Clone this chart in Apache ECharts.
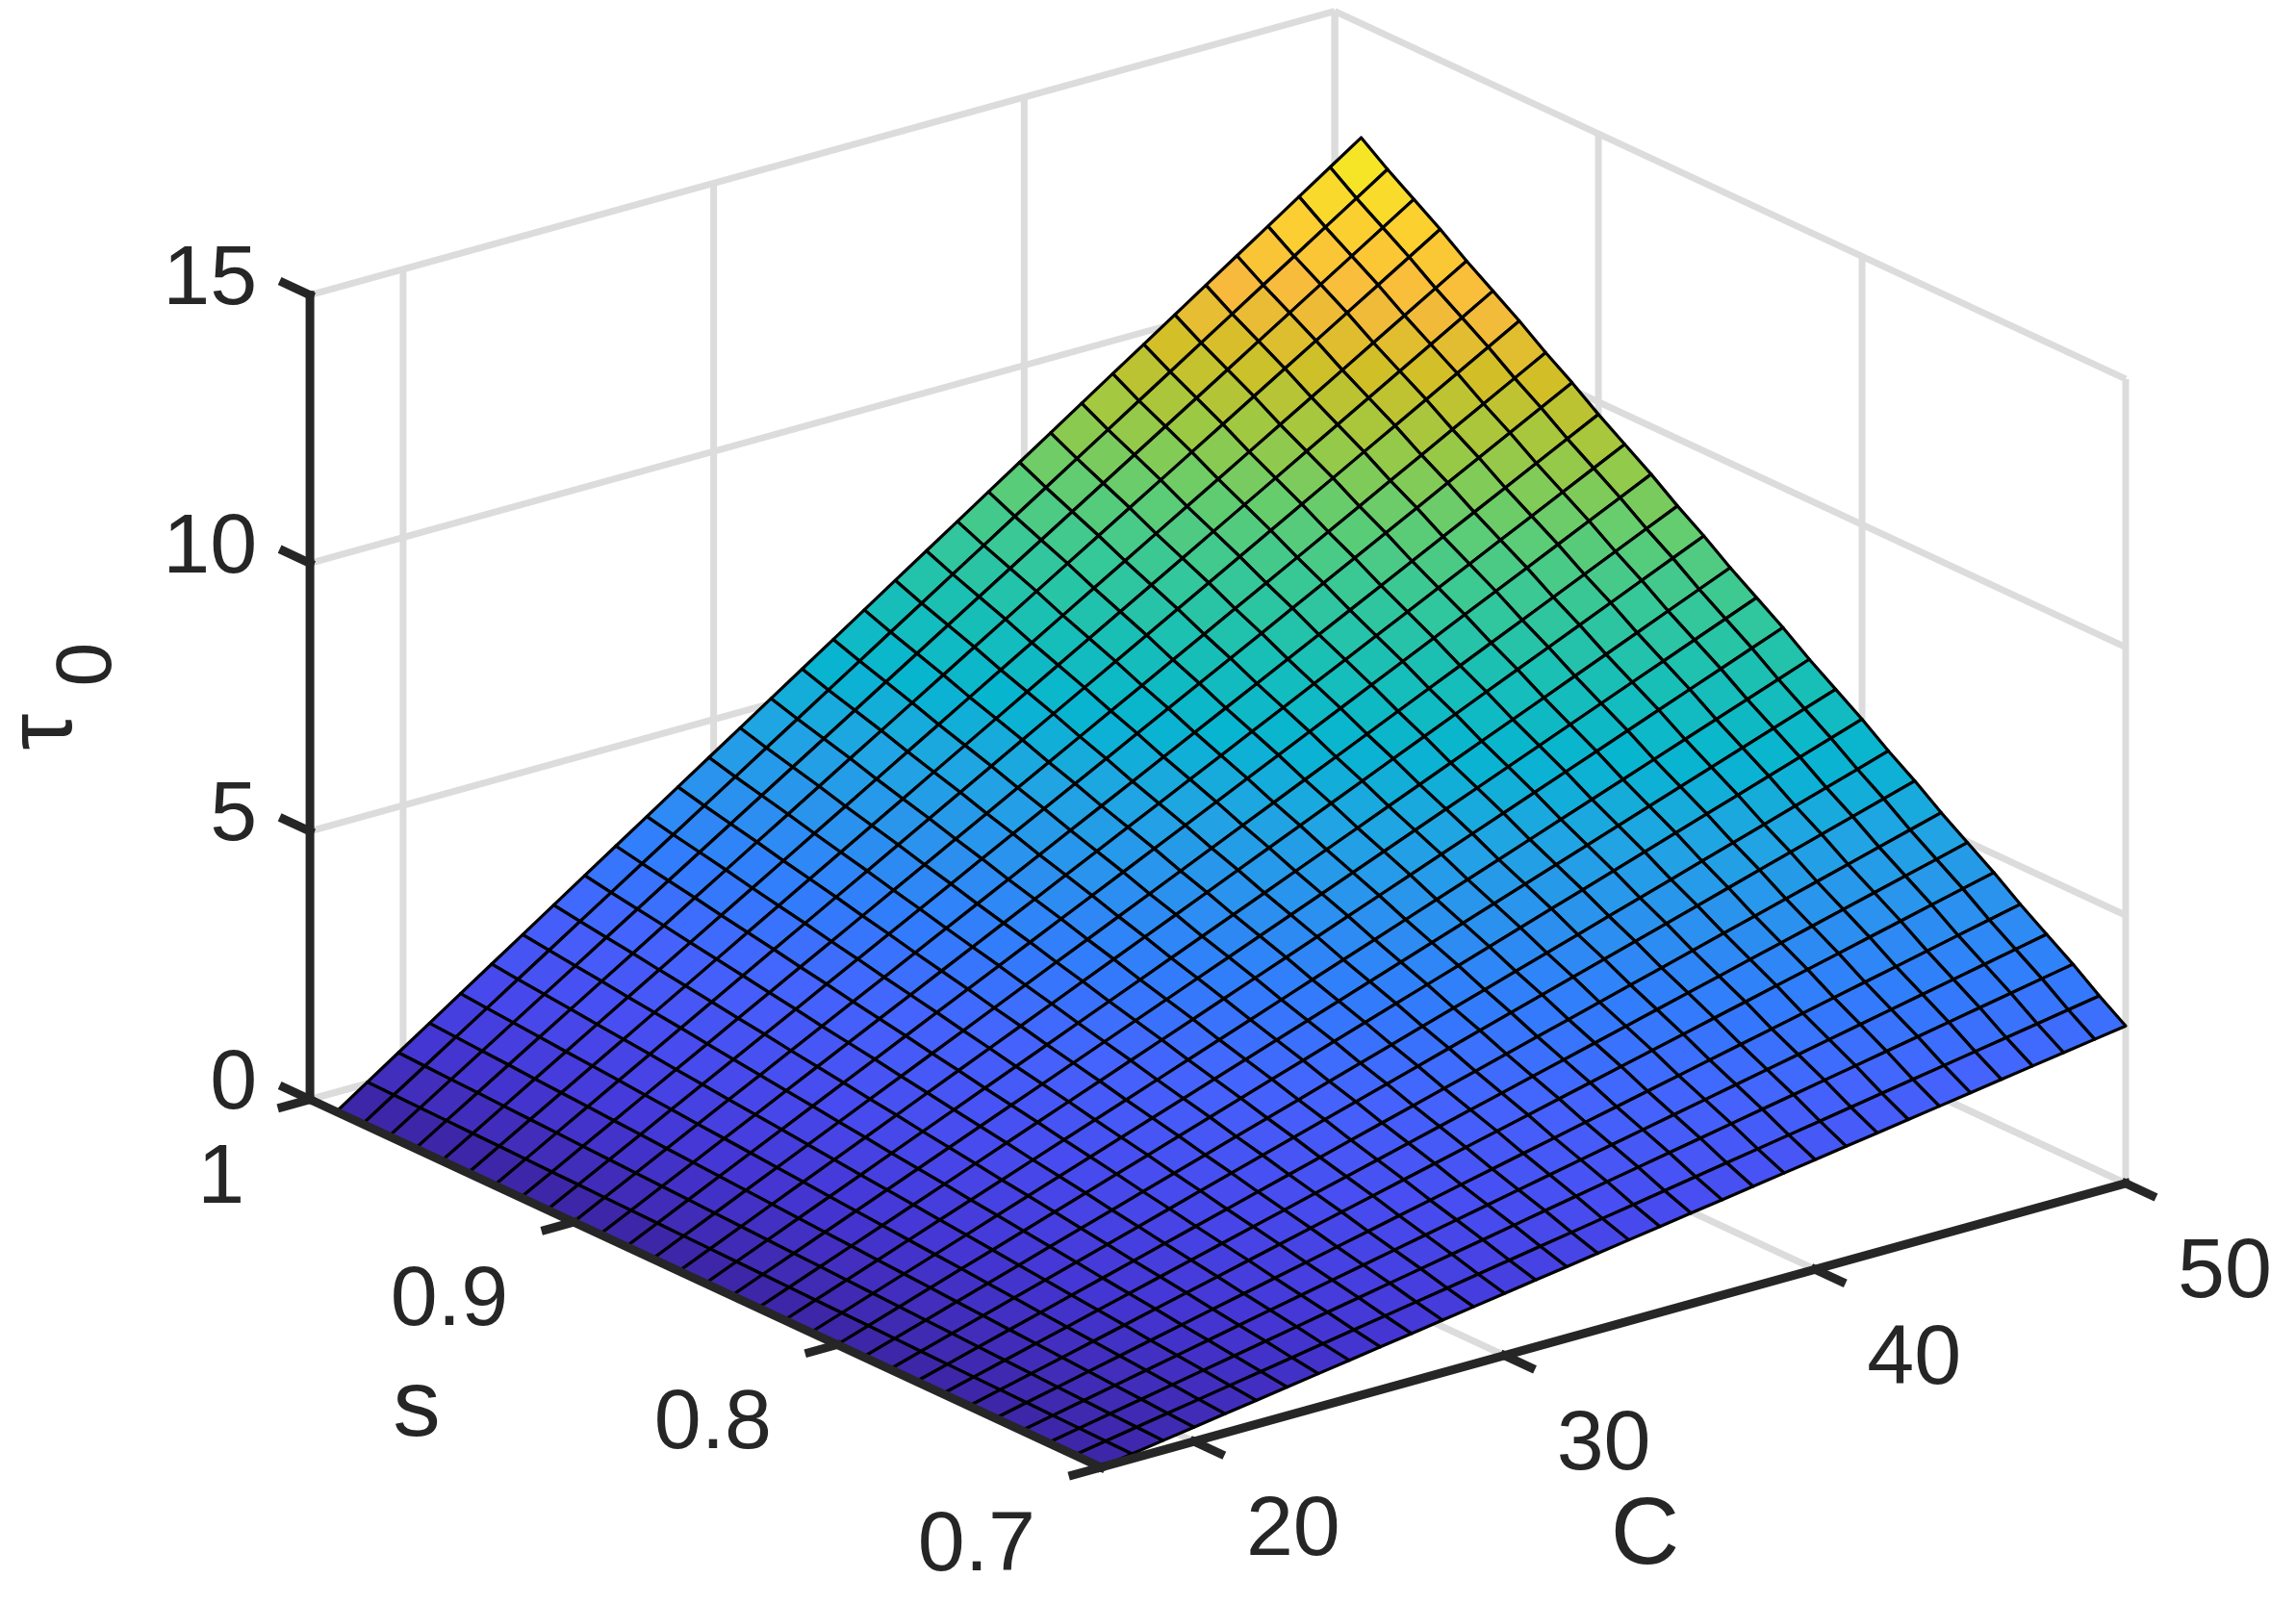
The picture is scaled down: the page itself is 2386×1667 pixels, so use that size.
<!doctype html>
<html lang="en">
<head>
<meta charset="utf-8">
<title>tau0 surface</title>
<script src="https://cdn.jsdelivr.net/npm/echarts/dist/echarts.min.js"></script>
<style>
  html, body { margin: 0; padding: 0; background: #ffffff; }
  #main { width: 2386px; height: 1667px; }
</style>
</head>
<body>
<div id="main"></div>
<script>
// surface grid: C along columns, s along rows
const cValues = [17, 18, 19, 20, 21, 22, 23, 24, 25, 26, 27, 28, 29, 30, 31, 32, 33,
                 34, 35, 36, 37, 38, 39, 40, 41, 42, 43, 44, 45, 46, 47, 48, 49, 50];
const sValues = [0.70, 0.71, 0.72, 0.73, 0.74, 0.75, 0.76, 0.77, 0.78, 0.79,
                 0.80, 0.81, 0.82, 0.83, 0.84, 0.85, 0.86, 0.87, 0.88, 0.89,
                 0.90, 0.91, 0.92, 0.93, 0.94, 0.95, 0.96, 0.97, 0.98, 0.99];

// tau0, one row per s value
const tau0 = [
  [0,0.089,0.178,0.267,0.356,0.445,0.534,0.623,0.712,0.801,0.89,0.979,1.068,1.157,1.246,1.335,1.424,1.513,1.602,1.691,1.78,1.869,1.958,2.047,2.136,2.225,2.314,2.403,2.492,2.581,2.67,2.759,2.848,2.937],
  [0,0.099,0.198,0.297,0.396,0.495,0.594,0.693,0.792,0.891,0.99,1.089,1.188,1.287,1.386,1.485,1.584,1.683,1.782,1.881,1.98,2.079,2.178,2.277,2.376,2.475,2.574,2.673,2.772,2.871,2.97,3.069,3.168,3.267],
  [0,0.11,0.22,0.33,0.44,0.55,0.66,0.77,0.88,0.99,1.1,1.21,1.32,1.43,1.54,1.65,1.76,1.87,1.98,2.09,2.2,2.31,2.42,2.53,2.64,2.75,2.86,2.97,3.08,3.19,3.3,3.41,3.52,3.63],
  [0,0.12,0.24,0.36,0.48,0.6,0.72,0.84,0.96,1.08,1.2,1.32,1.44,1.56,1.68,1.8,1.92,2.04,2.16,2.28,2.4,2.52,2.64,2.76,2.88,3,3.12,3.24,3.36,3.48,3.6,3.72,3.84,3.96],
  [0,0.13,0.26,0.39,0.52,0.65,0.78,0.91,1.04,1.17,1.3,1.43,1.56,1.69,1.82,1.95,2.08,2.21,2.34,2.47,2.6,2.73,2.86,2.99,3.12,3.25,3.38,3.51,3.64,3.77,3.9,4.03,4.16,4.29],
  [0,0.141,0.282,0.423,0.564,0.705,0.846,0.987,1.128,1.269,1.41,1.551,1.692,1.833,1.974,2.115,2.256,2.397,2.538,2.679,2.82,2.961,3.102,3.243,3.384,3.525,3.666,3.807,3.948,4.089,4.23,4.371,4.512,4.653],
  [0,0.151,0.302,0.453,0.604,0.755,0.906,1.057,1.208,1.359,1.51,1.661,1.812,1.963,2.114,2.265,2.416,2.567,2.718,2.869,3.02,3.171,3.322,3.473,3.624,3.775,3.926,4.077,4.228,4.379,4.53,4.681,4.832,4.983],
  [0,0.161,0.322,0.483,0.644,0.805,0.966,1.127,1.288,1.449,1.61,1.771,1.932,2.093,2.254,2.415,2.576,2.737,2.898,3.059,3.22,3.381,3.542,3.703,3.864,4.025,4.186,4.347,4.508,4.669,4.83,4.991,5.152,5.313],
  [0,0.172,0.344,0.516,0.688,0.86,1.032,1.204,1.376,1.548,1.72,1.892,2.064,2.236,2.408,2.58,2.752,2.924,3.096,3.268,3.44,3.612,3.784,3.956,4.128,4.3,4.472,4.644,4.816,4.988,5.16,5.332,5.504,5.676],
  [0,0.182,0.364,0.546,0.728,0.91,1.092,1.274,1.456,1.638,1.82,2.002,2.184,2.366,2.548,2.73,2.912,3.094,3.276,3.458,3.64,3.822,4.004,4.186,4.368,4.55,4.732,4.914,5.096,5.278,5.46,5.642,5.824,6.006],
  [0,0.193,0.386,0.579,0.772,0.965,1.158,1.351,1.544,1.737,1.93,2.123,2.316,2.509,2.702,2.895,3.088,3.281,3.474,3.667,3.86,4.053,4.246,4.439,4.632,4.825,5.018,5.211,5.404,5.597,5.79,5.983,6.176,6.369],
  [0,0.203,0.406,0.609,0.812,1.015,1.218,1.421,1.624,1.827,2.03,2.233,2.436,2.639,2.842,3.045,3.248,3.451,3.654,3.857,4.06,4.263,4.466,4.669,4.872,5.075,5.278,5.481,5.684,5.887,6.09,6.293,6.496,6.699],
  [0,0.213,0.426,0.639,0.852,1.065,1.278,1.491,1.704,1.917,2.13,2.343,2.556,2.769,2.982,3.195,3.408,3.621,3.834,4.047,4.26,4.473,4.686,4.899,5.112,5.325,5.538,5.751,5.964,6.177,6.39,6.603,6.816,7.029],
  [0,0.224,0.448,0.672,0.896,1.12,1.344,1.568,1.792,2.016,2.24,2.464,2.688,2.912,3.136,3.36,3.584,3.808,4.032,4.256,4.48,4.704,4.928,5.152,5.376,5.6,5.824,6.048,6.272,6.496,6.72,6.944,7.168,7.392],
  [0,0.234,0.468,0.702,0.936,1.17,1.404,1.638,1.872,2.106,2.34,2.574,2.808,3.042,3.276,3.51,3.744,3.978,4.212,4.446,4.68,4.914,5.148,5.382,5.616,5.85,6.084,6.318,6.552,6.786,7.02,7.254,7.488,7.722],
  [0,0.244,0.488,0.732,0.976,1.22,1.464,1.708,1.952,2.196,2.44,2.684,2.928,3.172,3.416,3.66,3.904,4.148,4.392,4.636,4.88,5.124,5.368,5.612,5.856,6.1,6.344,6.588,6.832,7.076,7.32,7.564,7.808,8.052],
  [0,0.255,0.51,0.765,1.02,1.275,1.53,1.785,2.04,2.295,2.55,2.805,3.06,3.315,3.57,3.825,4.08,4.335,4.59,4.845,5.1,5.355,5.61,5.865,6.12,6.375,6.63,6.885,7.14,7.395,7.65,7.905,8.16,8.415],
  [0,0.265,0.53,0.795,1.06,1.325,1.59,1.855,2.12,2.385,2.65,2.915,3.18,3.445,3.71,3.975,4.24,4.505,4.77,5.035,5.3,5.565,5.83,6.095,6.36,6.625,6.89,7.155,7.42,7.685,7.95,8.215,8.48,8.745],
  [0,0.276,0.552,0.828,1.104,1.38,1.656,1.932,2.208,2.484,2.76,3.036,3.312,3.588,3.864,4.14,4.416,4.692,4.968,5.244,5.52,5.796,6.072,6.348,6.624,6.9,7.176,7.452,7.728,8.004,8.28,8.556,8.832,9.108],
  [0,0.286,0.572,0.858,1.144,1.43,1.716,2.002,2.288,2.574,2.86,3.146,3.432,3.718,4.004,4.29,4.576,4.862,5.148,5.434,5.72,6.006,6.292,6.578,6.864,7.15,7.436,7.722,8.008,8.294,8.58,8.866,9.152,9.438],
  [0,0.296,0.592,0.888,1.184,1.48,1.776,2.072,2.368,2.664,2.96,3.256,3.552,3.848,4.144,4.44,4.736,5.032,5.328,5.624,5.92,6.216,6.512,6.808,7.104,7.4,7.696,7.992,8.288,8.584,8.88,9.176,9.472,9.768],
  [0,0.307,0.614,0.921,1.228,1.535,1.842,2.149,2.456,2.763,3.07,3.377,3.684,3.991,4.298,4.605,4.912,5.219,5.526,5.833,6.14,6.447,6.754,7.061,7.368,7.675,7.982,8.289,8.596,8.903,9.21,9.517,9.824,10.131],
  [0,0.317,0.634,0.951,1.268,1.585,1.902,2.219,2.536,2.853,3.17,3.487,3.804,4.121,4.438,4.755,5.072,5.389,5.706,6.023,6.34,6.657,6.974,7.291,7.608,7.925,8.242,8.559,8.876,9.193,9.51,9.827,10.144,10.461],
  [0,0.328,0.656,0.984,1.312,1.64,1.968,2.296,2.624,2.952,3.28,3.608,3.936,4.264,4.592,4.92,5.248,5.576,5.904,6.232,6.56,6.888,7.216,7.544,7.872,8.2,8.528,8.856,9.184,9.512,9.84,10.168,10.496,10.824],
  [0,0.338,0.676,1.014,1.352,1.69,2.028,2.366,2.704,3.042,3.38,3.718,4.056,4.394,4.732,5.07,5.408,5.746,6.084,6.422,6.76,7.098,7.436,7.774,8.112,8.45,8.788,9.126,9.464,9.802,10.14,10.478,10.816,11.154],
  [0,0.348,0.696,1.044,1.392,1.74,2.088,2.436,2.784,3.132,3.48,3.828,4.176,4.524,4.872,5.22,5.568,5.916,6.264,6.612,6.96,7.308,7.656,8.004,8.352,8.7,9.048,9.396,9.744,10.092,10.44,10.788,11.136,11.484],
  [0,0.359,0.718,1.077,1.436,1.795,2.154,2.513,2.872,3.231,3.59,3.949,4.308,4.667,5.026,5.385,5.744,6.103,6.462,6.821,7.18,7.539,7.898,8.257,8.616,8.975,9.334,9.693,10.052,10.411,10.77,11.129,11.488,11.847],
  [0,0.369,0.738,1.107,1.476,1.845,2.214,2.583,2.952,3.321,3.69,4.059,4.428,4.797,5.166,5.535,5.904,6.273,6.642,7.011,7.38,7.749,8.118,8.487,8.856,9.225,9.594,9.963,10.332,10.701,11.07,11.439,11.808,12.177],
  [0,0.379,0.758,1.137,1.516,1.895,2.274,2.653,3.032,3.411,3.79,4.169,4.548,4.927,5.306,5.685,6.064,6.443,6.822,7.201,7.58,7.959,8.338,8.717,9.096,9.475,9.854,10.233,10.612,10.991,11.37,11.749,12.128,12.507],
  [0,0.39,0.78,1.17,1.56,1.95,2.34,2.73,3.12,3.51,3.9,4.29,4.68,5.07,5.46,5.85,6.24,6.63,7.02,7.41,7.8,8.19,8.58,8.97,9.36,9.75,10.14,10.53,10.92,11.31,11.7,12.09,12.48,12.87]
];

// axes
const cLim = [17, 50];
const sLim = [0.7, 1];
const zLim = [0, 15];
const cTicks = [20, 30, 40, 50];
const sTicks = [0.7, 0.8, 0.9, 1];
const zTicks = [0, 5, 10, 15];
const cTickLabels = ['20', '30', '40', '50'];
const sTickLabels = ['0.7', '0.8', '0.9', '1'];
const zTickLabels = ['0', '5', '10', '15'];

// view (orthographic), azimuth / elevation in degrees
const view = {az: 37.66, el: 21.04, zAspect: 0.6214};
const cosA = Math.cos(view.az * Math.PI / 180);
const sinA = Math.sin(view.az * Math.PI / 180);
const sinE = Math.sin(view.el * Math.PI / 180);

// (C, s, tau) -> projected plane
const project = (c, s, z) => {
    const cn = (c - cLim[0]) / (cLim[1] - cLim[0]);
    const sn = (s - sLim[0]) / (sLim[1] - sLim[0]);
    const zn = (z - zLim[0]) / (zLim[1] - zLim[0]);
    return [cn * cosA - sn * sinA, (cn * sinA + sn * cosA) * sinE + zn * view.zAspect];
};

// parula colormap
const parulaStops = [
    [0 / 63, 0.2422, 0.1504, 0.6603], [4 / 63, 0.2706, 0.2147, 0.8364],
    [8 / 63, 0.2813, 0.3006, 0.9414], [12 / 63, 0.2699, 0.3892, 0.9906],
    [16 / 63, 0.1963, 0.4847, 0.9892], [20 / 63, 0.1687, 0.5703, 0.9359],
    [24 / 63, 0.1248, 0.6459, 0.8883], [28 / 63, 0.0297, 0.7082, 0.8163],
    [32 / 63, 0.0964, 0.7500, 0.7120], [36 / 63, 0.2161, 0.7843, 0.5923],
    [40 / 63, 0.3909, 0.8029, 0.4354], [44 / 63, 0.6174, 0.7876, 0.2612],
    [48 / 63, 0.8203, 0.7498, 0.1535], [52 / 63, 0.9728, 0.7298, 0.2394],
    [56 / 63, 0.9892, 0.8136, 0.1885], [60 / 63, 0.9597, 0.9135, 0.1423],
    [63 / 63, 0.9769, 0.9839, 0.0805]
];
const parula = (t) => {
    t = Math.max(0, Math.min(1, t));
    let i = 0;
    while (i < parulaStops.length - 2 && t > parulaStops[i + 1][0]) i++;
    const a = parulaStops[i], b = parulaStops[i + 1];
    const r = (t - a[0]) / (b[0] - a[0]);
    const ch = q => Math.round((a[q] + (b[q] - a[q]) * r) * 255);
    return 'rgb(' + ch(1) + ',' + ch(2) + ',' + ch(3) + ')';
};

const allTau = tau0.flat();
const tauMin = Math.min(...allTau), tauMax = Math.max(...allTau);

// back walls and floor grid lines
const gridSegs = [];
cTicks.forEach(c => gridSegs.push([[c, sLim[1], zLim[0]], [c, sLim[1], zLim[1]]]));
zTicks.forEach(z => gridSegs.push([[cLim[0], sLim[1], z], [cLim[1], sLim[1], z]]));
sTicks.forEach(s => gridSegs.push([[cLim[1], s, zLim[0]], [cLim[1], s, zLim[1]]]));
zTicks.forEach(z => gridSegs.push([[cLim[1], sLim[0], z], [cLim[1], sLim[1], z]]));
cTicks.forEach(c => gridSegs.push([[c, sLim[0], zLim[0]], [c, sLim[1], zLim[0]]]));
sTicks.forEach(s => gridSegs.push([[cLim[0], s, zLim[0]], [cLim[1], s, zLim[0]]]));

// axis lines and ticks
const tickS = 0.01, tickC = 0.9;
const axisSegs = [
    [[cLim[0], sLim[1], zLim[0]], [cLim[0], sLim[1], zLim[1]]],
    [[cLim[0], sLim[0], zLim[0]], [cLim[0], sLim[1], zLim[0]]],
    [[cLim[0], sLim[0], zLim[0]], [cLim[1], sLim[0], zLim[0]]]
];
zTicks.forEach(z => axisSegs.push([[cLim[0], sLim[1], z], [cLim[0], sLim[1] + tickS, z]]));
sTicks.forEach(s => axisSegs.push([[cLim[0], s, zLim[0]], [cLim[0] - tickC, s, zLim[0]]]));
cTicks.forEach(c => axisSegs.push([[c, sLim[0], zLim[0]], [c, sLim[0] - tickS, zLim[0]]]));

// labels
const labelItems = [];
zTicks.forEach((z, i) => labelItems.push({text: zTickLabels[i], at: [cLim[0], sLim[1], z], dx: -55, dy: -15, align: 'right', size: 88}));
sTicks.forEach((s, i) => labelItems.push({text: sTickLabels[i], at: [cLim[0], s, zLim[0]], dx: -68, dy: 83, align: 'right', size: 88}));
cTicks.forEach((c, i) => labelItems.push({text: cTickLabels[i], at: [c, sLim[0], zLim[0]], dx: 103, dy: 94, align: 'center', size: 88}));
labelItems.push({text: 's', at: [cLim[0], 0.85, zLim[0]], dx: -300, dy: 131, align: 'center', size: 99});
labelItems.push({text: 'C', at: [33.5, sLim[0], zLim[0]], dx: 33, dy: 220, align: 'center', size: 99});
labelItems.push({text: 'τ', at: [cLim[0], sLim[1], 7.5], dx: -275, dy: 36, align: 'center', size: 96, rotate: Math.PI / 2});
labelItems.push({text: '0', at: [cLim[0], sLim[1], 7.5], dx: -230, dy: -34, align: 'center', size: 82, rotate: Math.PI / 2});

// surface cells, far ones first
const cells = [];
for (let k = 0; k < sValues.length - 1; k++) {
    for (let j = 0; j < cValues.length - 1; j++) {
        const p = project((cValues[j] + cValues[j + 1]) / 2, (sValues[k] + sValues[k + 1]) / 2, 0);
        cells.push([j, k, p[1]]);
    }
}
cells.sort((a, b) => b[2] - a[2]);

const fontFamily = '"Liberation Sans", Arial, Helvetica, sans-serif';

const segRender = (segs, color, width, cap) => (params, api) => {
    const seg = segs[params.dataIndex];
    const a = api.coord(project(...seg[0]));
    const b = api.coord(project(...seg[1]));
    return {
        type: 'line',
        shape: {x1: a[0], y1: a[1], x2: b[0], y2: b[1]},
        style: {stroke: color, lineWidth: width, lineCap: cap}
    };
};

const option = {
    animation: false,
    backgroundColor: '#ffffff',
    grid: {left: 0, right: 0, top: 0, bottom: 0},
    xAxis: {type: 'value', min: -0.8504, max: 0.9232, show: false},
    yAxis: {type: 'value', min: -0.1056, max: 1.1336, show: false},
    series: [
        {
            type: 'custom', name: 'grid', z: 1, silent: true,
            data: gridSegs.map((_, i) => [i]),
            renderItem: segRender(gridSegs, '#dcdcdc', 7, 'butt')
        },
        {
            type: 'custom', name: 'tau0', z: 2, silent: true,
            data: cells,
            renderItem: (params, api) => {
                const j = api.value(0), k = api.value(1);
                const pts = [
                    [cValues[j], sValues[k], tau0[k][j]],
                    [cValues[j + 1], sValues[k], tau0[k][j + 1]],
                    [cValues[j + 1], sValues[k + 1], tau0[k + 1][j + 1]],
                    [cValues[j], sValues[k + 1], tau0[k + 1][j]]
                ].map(p => api.coord(project(...p)));
                return {
                    type: 'polygon',
                    shape: {points: pts},
                    style: {
                        fill: parula((tau0[k][j] - tauMin) / (tauMax - tauMin)),
                        stroke: '#000000',
                        lineWidth: 3.2,
                        lineJoin: 'round'
                    }
                };
            }
        },
        {
            type: 'custom', name: 'axes', z: 3, silent: true,
            data: axisSegs.map((_, i) => [i]),
            renderItem: segRender(axisSegs, '#262626', 9, 'square')
        },
        {
            type: 'custom', name: 'labels', z: 4, silent: true,
            data: labelItems.map((_, i) => [i]),
            renderItem: (params, api) => {
                const it = labelItems[params.dataIndex];
                const p = api.coord(project(...it.at));
                return {
                    type: 'text',
                    x: p[0] + it.dx,
                    y: p[1] + it.dy,
                    rotation: it.rotate || 0,
                    style: {
                        text: it.text,
                        fill: '#262626',
                        font: it.size + 'px ' + fontFamily,
                        align: it.align,
                        textAlign: it.align,
                        verticalAlign: 'middle',
                        textVerticalAlign: 'middle'
                    }
                };
            }
        }
    ]
};

const myChart = echarts.init(document.getElementById('main'));
myChart.setOption(option);
</script>
</body>
</html>
